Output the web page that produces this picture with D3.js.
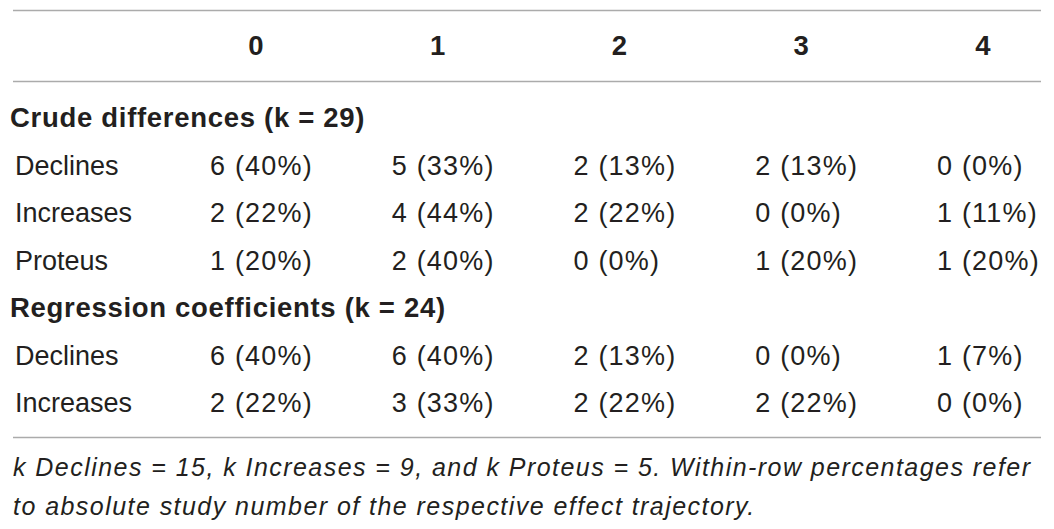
<!DOCTYPE html>
<html>
<head>
<meta charset="utf-8">
<script src="https://cdn.jsdelivr.net/npm/d3@7"></script>
<style>
  body { margin: 0; background: #fff; }
  svg text { font-family: "Liberation Sans", Arial, Helvetica, sans-serif; fill: #231f20; }
</style>
</head>
<body>
<svg id="table"></svg>
<script>
(function() {

    // Table data
    const columns = ['0', '1', '2', '3', '4'];
    const sections = ['Crude differences (k = 29)', 'Regression coefficients (k = 24)'];
    const crudeLabels = ['Declines', 'Increases', 'Proteus'];
    const crudeCounts = [
        [6, 5, 2, 2, 0],
        [2, 4, 2, 0, 1],
        [1, 2, 0, 1, 1]
    ];
    const crudePercents = [
        [40, 33, 13, 13, 0],
        [22, 44, 22, 0, 11],
        [20, 40, 0, 20, 20]
    ];
    const regressionLabels = ['Declines', 'Increases'];
    const regressionCounts = [
        [6, 6, 2, 0, 1],
        [2, 3, 2, 2, 0]
    ];
    const regressionPercents = [
        [40, 40, 13, 0, 7],
        [22, 33, 22, 22, 0]
    ];
    const footnote = [
        'k Declines = 15, k Increases = 9, and k Proteus = 5. Within-row percentages refer',
        'to absolute study number of the respective effect trajectory.'
    ];

    const w = 1054;
    const h = 529;

    // Flatten into display rows
    const rows = [];
    rows.push({ type: 'section', label: sections[0] });
    crudeLabels.forEach((label, i) => rows.push({ type: 'data', label, counts: crudeCounts[i], pct: crudePercents[i] }));
    rows.push({ type: 'section', label: sections[1] });
    regressionLabels.forEach((label, i) => rows.push({ type: 'data', label, counts: regressionCounts[i], pct: regressionPercents[i] }));

    // Scales
    const scaleCol = d3.scaleLinear().domain([0, columns.length - 1]).range([210, 937]);
    const scaleRow = d3.scaleLinear().domain([0, rows.length - 1]).range([127, 412]);
    const headerOffset = 46;

    const svg = d3.select('#table')
        .attr('width', w)
        .attr('height', h);

    // Rules
    const rules = [10.5, 81.5, 437.5];
    svg.selectAll('line.rule')
        .data(rules)
        .enter().append('line')
        .attr('class', 'rule')
        .attr('x1', 13)
        .attr('x2', 1041)
        .attr('y1', d => d)
        .attr('y2', d => d)
        .attr('stroke', '#ababab')
        .attr('stroke-width', 1.3);

    // Header
    svg.selectAll('text.header')
        .data(columns)
        .enter().append('text')
        .attr('class', 'header')
        .attr('x', (d, i) => scaleCol(i) + headerOffset)
        .attr('y', 55)
        .attr('text-anchor', 'middle')
        .style('font-size', '27.5px')
        .style('font-weight', 'bold')
        .text(d => d);

    // Body rows
    const rowG = svg.selectAll('g.row')
        .data(rows)
        .enter().append('g')
        .attr('class', 'row')
        .attr('transform', (d, i) => `translate(0, ${scaleRow(i)})`);

    rowG.append('text')
        .attr('x', d => d.type === 'section' ? 10 : 15)
        .style('font-size', d => d.type === 'section' ? '27.5px' : '27px')
        .style('font-weight', d => d.type === 'section' ? 'bold' : 'normal')
        .style('letter-spacing', d => d.type === 'section' ? '0.7px' : '0px')
        .text(d => d.label);

    rowG.filter(d => d.type === 'data')
        .selectAll('text.cell')
        .data(d => d.counts.map((c, i) => ({ c, p: d.pct[i], i })))
        .enter().append('text')
        .attr('class', 'cell')
        .attr('x', d => scaleCol(d.i))
        .style('font-size', '27px')
        .style('letter-spacing', '1.2px')
        .text(d => `${d.c} (${d.p}%)`);

    // Footnote, tracked out so the first line spans the table width
    const notes = svg.selectAll('text.note')
        .data(footnote)
        .enter().append('text')
        .attr('class', 'note')
        .attr('x', 13)
        .attr('y', (d, i) => 476 + i * 39)
        .style('font-size', '25px')
        .style('font-style', 'italic')
        .text(d => d);

    const first = notes.node();
    const natural = first.getComputedTextLength();
    const spacing = (1017 - natural) / (footnote[0].length - 1);
    notes.style('letter-spacing', `${spacing}px`);

})();
</script>
</body>
</html>
